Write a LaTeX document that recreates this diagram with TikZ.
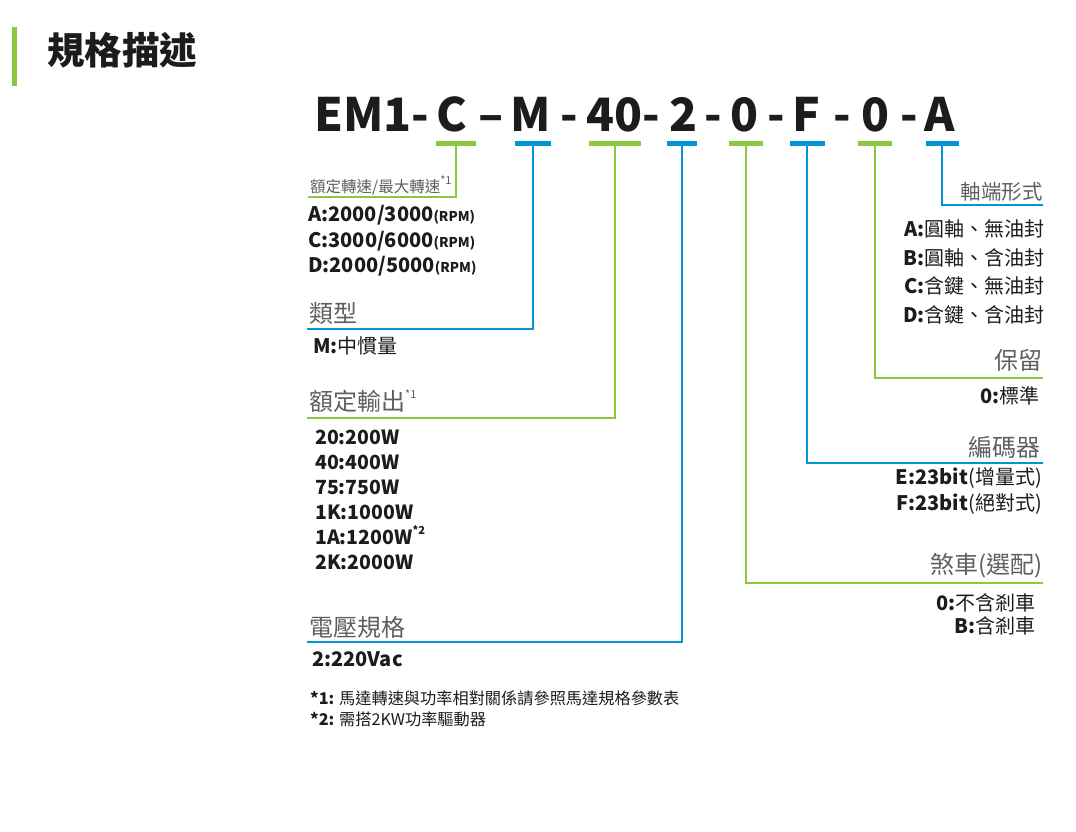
\documentclass[tikz,border=0pt]{standalone}
\usepackage{fontspec}
\setmainfont{Noto Sans CJK TC}
\usetikzlibrary{positioning}
\definecolor{specgreen}{RGB}{141,198,63}
\definecolor{specblue}{RGB}{0,150,214}
\definecolor{headgray}{RGB}{95,95,95}
\definecolor{textdark}{RGB}{28,28,28}
\newcommand{\starnote}[1]{\raisebox{0.5em}{\fontsize{11}{11}\selectfont *#1}}

\begin{document}
\begin{tikzpicture}[x=1pt, y=-1pt,
    seg/.style={anchor=base, inner sep=0pt, font=\fontsize{46}{46}\selectfont\bfseries, text=textdark},
    bar/.style={fill=#1, minimum height=5pt, inner sep=0pt, draw=none},
    lead/.style={draw=#1, line width=2pt},
    head/.style={inner sep=0pt, font=\fontsize{24}{24}\selectfont, text=headgray},
    sub/.style={inner sep=0pt, font=\fontsize{15.5}{15.5}\selectfont, text=headgray},
    item/.style={inner sep=0pt, font=\fontsize{20}{20}\selectfont, text=textdark},
    note/.style={inner sep=0pt, font=\fontsize{16.2}{16.2}\selectfont, text=textdark}
]
\useasboundingbox (0,0) rectangle (1076,831);

% --- Title ---
\fill[specgreen] (12,27) rectangle (17,86);
\node[inner sep=0pt, anchor=west, font=\fontsize{37.5}{37.5}\selectfont\bfseries, text=textdark] (title) at (47,50) {規格描述};

% --- Model code ---
\node[seg] (segEM) at (372,131) {EM1-};
\node[seg] (segC)  at (452,131) {C};
\node[seg] (dash1) at (491,131) {–};
\node[seg] (segM)  at (531,131) {M};
\node[seg] (dash2) at (569,131) {-};
\node[seg] (seg40) at (623,131) {40-};
\node[seg] (seg2)  at (683,131) {2};
\node[seg] (dash3) at (713,131) {-};
\node[seg] (segB)  at (744,131) {0};
\node[seg] (dash4) at (776,131) {-};
\node[seg] (segF)  at (806,131) {F};
\node[seg] (dash5) at (842,131) {-};
\node[seg] (segR)  at (875,131) {0};
\node[seg] (dash6) at (909,131) {-};
\node[seg] (segA)  at (940,131) {A};

% --- Bars under the code ---
\node[bar=specgreen, minimum width=40pt] (barC)  at (456,143.5) {};
\node[bar=specblue,  minimum width=36pt] (barM)  at (533,143.5) {};
\node[bar=specgreen, minimum width=52pt] (bar40) at (615,143.5) {};
\node[bar=specblue,  minimum width=30pt] (bar2)  at (682,143.5) {};
\node[bar=specgreen, minimum width=34pt] (barB)  at (746,143.5) {};
\node[bar=specblue,  minimum width=35pt] (barF)  at (807,143.5) {};
\node[bar=specgreen, minimum width=34pt] (barR)  at (875,143.5) {};
\node[bar=specblue,  minimum width=33pt] (barA)  at (942,143.5) {};

% --- Line ends ---
\coordinate (endC)  at (308,197);
\coordinate (endM)  at (307,329);
\coordinate (end40) at (307,418);
\coordinate (end2)  at (307,642);
\coordinate (endB)  at (1043,583);
\coordinate (endF)  at (1043,463);
\coordinate (endR)  at (1043,378);
\coordinate (endA)  at (1043,205);

% --- Leads ---
\draw[lead=specgreen] (barC.south)  |- (endC);
\draw[lead=specblue]  (barM.south)  |- (endM);
\draw[lead=specgreen] (bar40.south) |- (end40);
\draw[lead=specblue]  (bar2.south)  |- (end2);
\draw[lead=specgreen] (barB.south)  |- (endB);
\draw[lead=specblue]  (barF.south)  |- (endF);
\draw[lead=specgreen] (barR.south)  |- (endR);
\draw[lead=specblue]  (barA.south)  |- (endA);

% --- Speed ---
\node[sub, anchor=base west] (speedhead) at (310,192) {額定轉速/最大轉速\starnote{1}};
\node[item, anchor=base west] (speedA) at (308,221) {\textbf{A:2000/3000}{\fontsize{13.5}{13.5}\selectfont\bfseries(RPM)}};
\node[item, anchor=base west] (speedC) at (308,247) {\textbf{C:3000/6000}{\fontsize{13.5}{13.5}\selectfont\bfseries(RPM)}};
\node[item, anchor=base west] (speedD) at (308,272) {\textbf{D:2000/5000}{\fontsize{13.5}{13.5}\selectfont\bfseries(RPM)}};

% --- Type ---
\node[head, anchor=west] (typehead) at (309,313) {類型};
\node[item, anchor=west] (typeM) at (313,346) {\textbf{M:}中慣量};

% --- Power ---
\node[head, anchor=base west] (powerhead) at (309,410) {額定輸出\starnote{1}};
\foreach \txt [count=\i] in {20:200W, 40:400W, 75:750W, 1K:1000W, 1A:1200W\starnote{2}, 2K:2000W} {
    \node[item, anchor=base west, font=\fontsize{19.5}{19.5}\selectfont\bfseries] (power\i) at (315,{419+25*\i}) {\txt};
}

% --- Voltage ---
\node[head, anchor=west] (volthead) at (309,627) {電壓規格};
\node[item, anchor=west] (volt2) at (312,659) {\textbf{2:220Vac}};

% --- Notes ---
\node[note, anchor=west] (note1) at (310,698) {\textbf{*1:} 馬達轉速與功率相對關係請參照馬達規格參數表};
\node[note, anchor=west] (note2) at (310,719) {\textbf{*2:} 需搭2KW功率驅動器};

% --- Shaft ---
\node[head, anchor=east, font=\fontsize{20.5}{20.5}\selectfont] (shafthead) at (1043,192) {軸端形式};
\node[item, anchor=east] (shaftA) at (1045,229) {\textbf{A:}圓軸、無油封};
\node[item, anchor=east] (shaftB) at (1045,258) {\textbf{B:}圓軸、含油封};
\node[item, anchor=east] (shaftC) at (1045,286) {\textbf{C:}含鍵、無油封};
\node[item, anchor=east] (shaftD) at (1045,315) {\textbf{D:}含鍵、含油封};

% --- Reserved ---
\node[head, anchor=east] (reshead) at (1043,360) {保留};
\node[item, anchor=east] (res0) at (1040,396) {\textbf{0:}標準};

% --- Encoder ---
\node[head, anchor=east] (enchead) at (1041,447) {編碼器};
\node[item, anchor=east] (encE) at (1042,478) {\textbf{E:23bit}(增量式)};
\node[item, anchor=east] (encF) at (1042,504) {\textbf{F:23bit}(絕對式)};

% --- Brake ---
\node[head, anchor=east] (brakehead) at (1043,566) {煞車(選配)};
\node[item, anchor=east] (brake0) at (1036,603) {\textbf{0:}不含剎車};
\node[item, anchor=east] (brakeB) at (1036,626) {\textbf{B:}含剎車};

\end{tikzpicture}
\end{document}
